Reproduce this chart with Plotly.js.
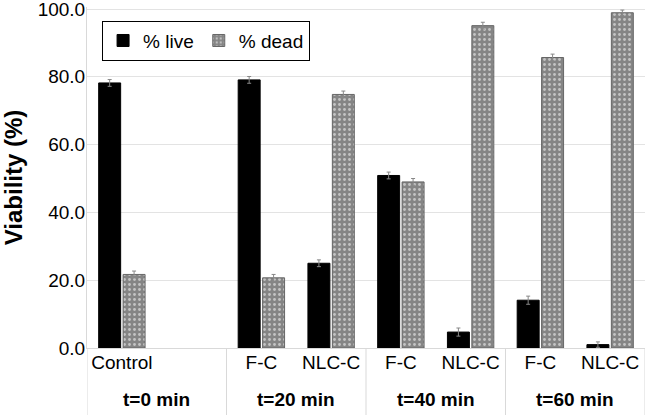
<!DOCTYPE html>
<html>
<head>
<meta charset="utf-8">
<script src="https://cdn.plot.ly/plotly-3.0.1.min.js"></script>
<style>html,body{margin:0;padding:0;background:#fff;}#chart{width:648px;height:415px;}</style>
</head>
<body>
<div id="chart"></div>
<script>
const categories = ['Control', '', 'F-C', 'NLC-C', 'F-C', 'NLC-C', 'F-C', 'NLC-C'];
const groups = ['t=0 min', 't=20 min', 't=40 min', 't=60 min'];
const liveValues = [78.2, null, 79.1, 25.0, 50.9, 4.7, 14.1, 1.0];
const deadValues = [21.7, null, 20.7, 74.8, 49.0, 95.1, 85.7, 98.9];
const liveErr = [1.0, null, 1.0, 1.0, 1.0, 1.2, 1.2, 0.8];
const deadErr = [1.0, null, 1.0, 1.0, 1.0, 1.0, 1.0, 0.8];
const yTicks = [0, 20, 40, 60, 80, 100];

const xIdx = categories.map((c, i) => i);
const font = 'Liberation Sans, Arial, sans-serif';

const traces = [
  {
    type: 'bar', name: '% live', x: xIdx, y: liveValues,
    marker: {color: '#000000', line: {color: '#000000', width: 1}},
    error_y: {type: 'data', array: liveErr, visible: true, color: '#888888', thickness: 1, width: 2}
  },
  {
    type: 'bar', name: '% dead', x: xIdx, y: deadValues,
    marker: {
      color: '#858585',
      line: {color: '#666666', width: 1},
      pattern: {shape: '.', fgcolor: '#c4c4c4', bgcolor: '#858585', size: 5, solidity: 0.25, fillmode: 'replace'}
    },
    error_y: {type: 'data', array: deadErr, visible: true, color: '#888888', thickness: 1, width: 2}
  }
];

const groupCenters = groups.map((g, i) => 2 * i + 0.5);
const sepX = [-0.5, 1.5, 3.5, 5.5, 7.5];

const shapes = sepX.map(x => ({
  type: 'line', xref: 'x', yref: 'paper', x0: x, x1: x, y0: 0, y1: -0.2,
  line: {color: '#d9d9d9', width: 1}
}));

const annotations = groups.map((g, i) => ({
  xref: 'x', yref: 'paper', x: groupCenters[i], y: -0.152, text: '<b>' + g + '</b>',
  showarrow: false, xanchor: 'center', yanchor: 'middle',
  font: {family: font, size: 19, color: '#000'}
}));

const layout = {
  width: 648, height: 415,
  margin: {l: 87, r: 3, t: 7, b: 67},
  paper_bgcolor: '#fff', plot_bgcolor: '#fff',
  barmode: 'group', bargap: 0.3, bargroupgap: 0.1,
  font: {family: font, color: '#000'},
  showlegend: true,
  legend: {
    orientation: 'h', x: 0.027, y: 0.96, xanchor: 'left', yanchor: 'top',
    bordercolor: '#000', borderwidth: 1, bgcolor: '#fff',
    font: {family: font, size: 19, color: '#000'},
    itemwidth: 30, tracegroupgap: 0
  },
  xaxis: {
    range: [-0.5, 7.5], tickmode: 'array', tickvals: xIdx, ticktext: categories,
    showgrid: false, zeroline: false, showline: true, linecolor: '#d9d9d9', linewidth: 1,
    ticks: '', ticklen: 0, ticklabelstandoff: -3,
    tickfont: {family: font, size: 19, color: '#000'}, fixedrange: true
  },
  yaxis: {
    range: [0, 100.6], tickmode: 'array', tickvals: yTicks, tickformat: '.1f',
    showgrid: true, gridcolor: '#e3e3e3', gridwidth: 1, zeroline: false,
    showline: true, linecolor: '#d9d9d9', ticks: '', ticklen: 0, ticklabelstandoff: -3,
    ticklabeloverflow: 'allow',
    tickfont: {family: font, size: 19, color: '#000'},
    title: {text: '<b>Viability (%)</b>', font: {family: font, size: 24, color: '#000'}, standoff: 10}
  },
  shapes: shapes,
  annotations: annotations
};

Plotly.newPlot('chart', traces, layout, {displayModeBar: false, staticPlot: true});
</script>
</body>
</html>
